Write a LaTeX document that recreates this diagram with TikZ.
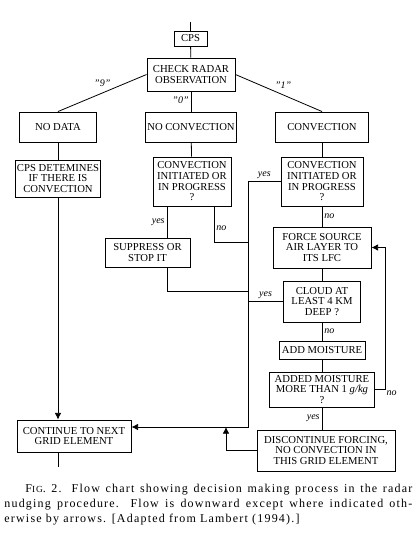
\documentclass[tikz,border=0pt]{standalone}
\usepackage{fontspec}
\setmainfont{Liberation Serif}
\newfontfamily\captionfont[LetterSpace=10]{Liberation Serif}
\usetikzlibrary{arrows.meta, positioning, calc}

\begin{document}
\begin{tikzpicture}[
    x=0.75pt, y=-0.75pt, line width=0.6pt,
    box/.style={rectangle, draw, line width=0.7pt, inner sep=1pt, align=center,
                font=\fontsize{8}{8}\selectfont},
    lbl/.style={font=\fontsize{7.5}{8}\selectfont\itshape, inner sep=1.5pt},
    arr/.style={-{Latex[length=5pt, width=5pt]}}
]
\useasboundingbox (0,0) rectangle (415,543);

% --- Grid Coordinates ---
% Columns
\def\cL{58}    % left column
\def\cM{191}   % middle column
\def\cR{322}   % right column

% Rows
\def\rO{38.5}  % CPS
\def\rI{74.5}  % radar check
\def\rII{127}  % radar answers
\def\rIII{181.5} % convection questions

% --- Top ---
\coordinate (start) at (190.5, 22);
\node[box, minimum width=24.75pt, minimum height=11.25pt] (cps) at (190.5, \rO) {CPS};
\node[box, minimum width=66pt, minimum height=24.75pt] (check) at (\cM, \rI) {CHECK RADAR\\OBSERVATION};

% --- Radar Answers ---
\node[box, minimum width=57.75pt, minimum height=22.5pt] (nodata) at (\cL, \rII) {NO DATA};
\node[box, minimum width=68.25pt, minimum height=22.5pt] (noconv) at (\cM, \rII) {NO CONVECTION};
\node[box, minimum width=69.75pt, minimum height=22.5pt] (conv)   at (\cR, \rII) {CONVECTION};

% --- Left Column ---
\node[box, minimum width=63pt, minimum height=27.75pt] (cpsdet) at (\cL, 178.5) {CPS DETEMINES\\IF THERE IS\\CONVECTION};
\node[box, minimum width=85.5pt, minimum height=24pt] (cont) at (74, 436) {CONTINUE TO NEXT\\GRID ELEMENT};

% --- Middle Column ---
\node[box, minimum width=58.5pt, minimum height=36.75pt] (initL) at (192, \rIII) {CONVECTION\\INITIATED OR\\IN PROGRESS\\?};
\node[box, minimum width=63.75pt, minimum height=21.75pt] (suppress) at (147.5, 252.5) {SUPPRESS OR\\STOP IT};

% --- Right Column ---
\node[box, minimum width=61.5pt, minimum height=36.75pt] (initR) at (\cR, \rIII) {CONVECTION\\INITIATED OR\\IN PROGRESS\\?};
\node[box, minimum width=73.5pt, minimum height=30.75pt] (force) at (\cR, 247.5) {FORCE SOURCE\\AIR LAYER TO\\ITS LFC};
\node[box, minimum width=57.75pt, minimum height=30.75pt] (cloud) at (\cR, 301.5) {CLOUD AT\\LEAST 4 KM\\DEEP ?};
\node[box, minimum width=64.5pt, minimum height=13.5pt] (addm) at (\cR, 350) {ADD MOISTURE};
\node[box, minimum width=78.75pt, minimum height=26.25pt] (added) at (\cR, 389.5) {ADDED MOISTURE\\MORE THAN 1 \textit{g/kg}\\?};
\node[box, minimum width=103.5pt, minimum height=30.75pt] (discont) at (326, 450.5) {DISCONTINUE FORCING,\\NO CONVECTION IN\\THIS GRID ELEMENT};

% --- Helper Coordinates ---
\coordinate (yesx) at (167, 0);
\coordinate (nox)  at (214, 0);
\coordinate (busx) at (248, 0);
\coordinate (fbx)  at (385, 0);
\coordinate (upx)  at (226, 0);
\coordinate (busno)  at (248, 242);
\coordinate (busmid) at (248, 291);
\coordinate (busbot) at (248, 427);
\coordinate (stub)   at (\cL, 467);

% --- Arrows ---
% Top flow
\draw (start) -- (cps);
\draw (cps) -- (check);
\draw (check.west) -- node[lbl, above, pos=0.5, yshift=3pt] {"9"} (nodata.north);
\draw (check.south) -- node[lbl, left, pos=0.45] {"0"} (noconv.north);
\draw (check.east) -- node[lbl, above, pos=0.55, yshift=3pt] {"1"} (conv.north);

% Left column
\draw (nodata) -- (cpsdet);
\draw[arr] (cpsdet.south) -- (cpsdet.south |- cont.north);
\draw (cont.south -| stub) -- (stub);

% Middle column
\draw (noconv) -- (initL);
\draw (initL.south -| yesx) -- node[lbl, left] {yes} (suppress.north -| yesx);
\draw (initL.south -| nox) |- node[lbl, right, pos=0.3] {no} (busno);
\draw (suppress.south -| yesx) |- (busmid);

% Collecting line to next grid element
\draw[arr] (initR.west) -- node[lbl, above] {yes} (initR.west -| busx) -- (busbot) -- (cont.east |- busbot);
\draw (cloud.west) -- node[lbl, above] {yes} (cloud.west -| busx);

% Right column
\draw (conv) -- (initR);
\draw (initR) -- node[lbl, right] {no} (force);
\draw (force) -- (cloud);
\draw (cloud) -- node[lbl, right] {no} (addm);
\draw (addm) -- (added);
\draw (added) -- node[lbl, left] {yes} (added.south |- discont.north);

% Feedback and return
\draw[arr] (added.east) -| node[lbl, below right, inner sep=1pt] {no} (force.east -| fbx) -- (force.east);
\draw[arr] (discont.west) -| (upx |- busbot);

% --- Caption ---
\node[anchor=north west, inner sep=0pt, text width=306pt, align=justify,
      font=\captionfont\fontsize{9}{11.25}\selectfont] (caption) at (4, 484)
  {\hspace*{15.75pt}F{\fontsize{7}{8}\selectfont IG}. 2. Flow chart showing decision making process in the radar\linebreak
   nudging procedure. Flow is downward except where indicated oth-\linebreak
   erwise by arrows. [Adapted from Lambert (1994).]};

\end{tikzpicture}
\end{document}
